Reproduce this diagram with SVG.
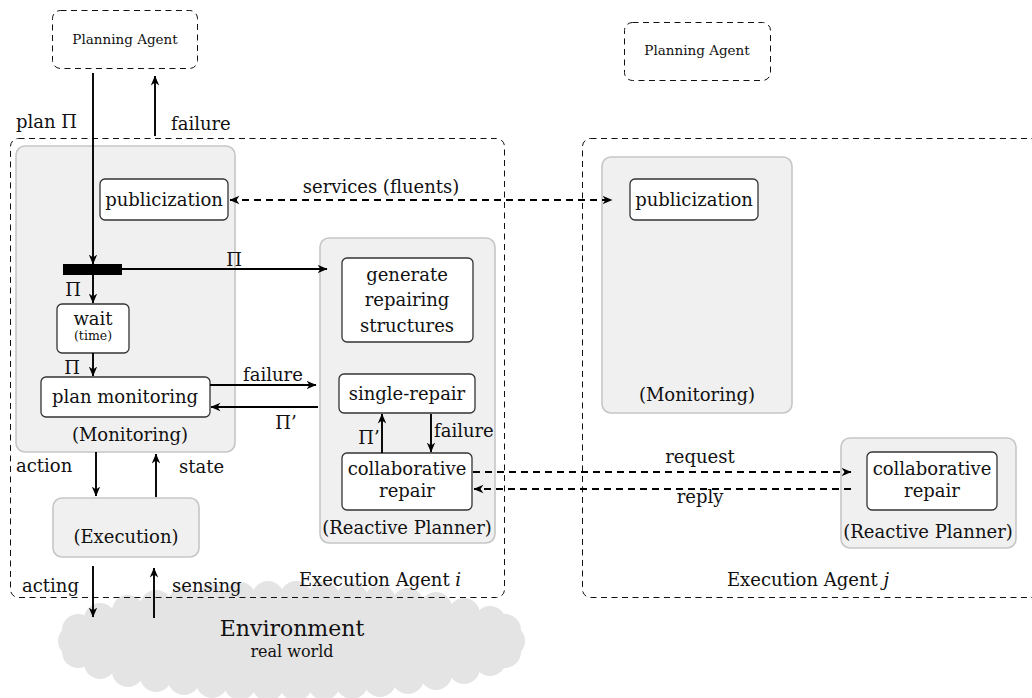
<svg xmlns="http://www.w3.org/2000/svg" width="1032" height="698" viewBox="0 0 1032 698">
  <defs>
    <marker id="arr" viewBox="0 0 10 10" refX="9.5" refY="5" markerWidth="10" markerHeight="10" markerUnits="userSpaceOnUse" orient="auto-start-reverse">
      <path d="M0,0.8 L10,5 L0,9.2 L3,5 z" fill="#000"/>
    </marker>
    <style>
      .txt { font-family: "DejaVu Serif", "Liberation Serif", serif; fill: #111; }
      .lbl { font-size: 18px; }
      .mid { text-anchor: middle; }
      .small { font-size: 13.5px; }
      .agent { fill: none; stroke: #111; stroke-width: 1; stroke-dasharray: 6 4.5; }
      .module { fill: #f0f0f0; stroke: #c6c6c6; stroke-width: 1.6; }
      .task { fill: #fff; stroke: #333; stroke-width: 1.3; }
      .link { fill: none; stroke: #000; stroke-width: 1.9; marker-end: url(#arr); }
      .dlink { fill: none; stroke: #000; stroke-width: 1.9; stroke-dasharray: 7 5; }
      .cloud { fill: #e4e4e4; }
    </style>
  </defs>

  <rect width="1032" height="698" fill="#fff"/>

  <!-- environment cloud -->
  <g id="environment">
    <g class="cloud">
      <ellipse cx="291" cy="641" rx="221" ry="45"/>
      <circle cx="100" cy="619" r="16"/><circle cx="128" cy="611" r="16"/><circle cx="156" cy="606" r="16"/>
      <circle cx="184" cy="603" r="16"/><circle cx="212" cy="600" r="16"/><circle cx="240" cy="598" r="16"/>
      <circle cx="268" cy="597" r="16"/><circle cx="296" cy="597" r="16"/><circle cx="324" cy="598" r="16"/>
      <circle cx="352" cy="599" r="16"/><circle cx="380" cy="601" r="16"/><circle cx="408" cy="604" r="16"/>
      <circle cx="436" cy="608" r="16"/><circle cx="464" cy="614" r="16"/><circle cx="490" cy="622" r="16"/>
      <circle cx="100" cy="663" r="16"/><circle cx="128" cy="671" r="16"/><circle cx="156" cy="676" r="16"/>
      <circle cx="184" cy="679" r="16"/><circle cx="212" cy="682" r="16"/><circle cx="240" cy="684" r="16"/>
      <circle cx="268" cy="685" r="16"/><circle cx="296" cy="685" r="16"/><circle cx="324" cy="684" r="16"/>
      <circle cx="352" cy="683" r="16"/><circle cx="380" cy="681" r="16"/><circle cx="408" cy="678" r="16"/>
      <circle cx="436" cy="674" r="16"/><circle cx="464" cy="668" r="16"/><circle cx="490" cy="660" r="16"/>
      <circle cx="78" cy="630" r="16"/><circle cx="74" cy="641" r="16"/><circle cx="78" cy="652" r="16"/>
      <circle cx="505" cy="630" r="16"/><circle cx="509" cy="641" r="16"/><circle cx="505" cy="652" r="16"/>
    </g>
    <text class="txt mid" x="292" y="636" font-size="22">Environment</text>
    <text class="txt mid" x="292" y="657" font-size="16">real world</text>
  </g>

  <!-- planning agents -->
  <g id="planning-agent-i">
    <rect class="agent" x="52.5" y="10.5" width="145" height="58" rx="8"/>
    <text class="txt mid small" x="125" y="44">Planning Agent</text>
  </g>
  <g id="planning-agent-j">
    <rect class="agent" x="624.5" y="22.5" width="146" height="58" rx="8"/>
    <text class="txt mid small" x="697" y="55">Planning Agent</text>
  </g>

  <!-- execution agent i -->
  <g id="execution-agent-i">
    <rect class="agent" x="10.5" y="138.5" width="494" height="459" rx="8"/>
    <text class="txt mid lbl" x="380" y="586">Execution Agent <tspan font-style="italic">i</tspan></text>
  </g>

  <!-- execution agent j -->
  <g id="execution-agent-j">
    <rect class="agent" x="582.5" y="138.5" width="520" height="459" rx="8"/>
    <text class="txt mid lbl" x="808" y="586">Execution Agent <tspan font-style="italic">j</tspan></text>
  </g>

  <!-- monitoring module of agent i -->
  <g id="monitoring-i">
    <rect class="module" x="16" y="146" width="219" height="306" rx="9"/>
    <text class="txt mid lbl" x="130" y="441">(Monitoring)</text>
  </g>
  <g id="publicization-i">
    <rect class="task" x="100" y="179" width="128" height="41" rx="5"/>
    <text class="txt mid lbl" x="164" y="206">publicization</text>
  </g>
  <g id="fork-bar">
    <rect x="63" y="264" width="59" height="11" fill="#000"/>
  </g>
  <g id="wait">
    <rect class="task" x="57" y="304" width="72" height="49" rx="5"/>
    <text class="txt mid lbl" x="93" y="325">wait</text>
    <text class="txt mid" x="93" y="340" font-size="12.5">(time)</text>
  </g>
  <g id="plan-monitoring">
    <rect class="task" x="41" y="377" width="169" height="40" rx="5"/>
    <text class="txt mid lbl" x="125" y="403">plan monitoring</text>
  </g>

  <!-- execution module -->
  <g id="execution">
    <rect class="module" x="53" y="498" width="146" height="59" rx="9"/>
    <text class="txt mid lbl" x="126" y="543">(Execution)</text>
  </g>

  <!-- reactive planner of agent i -->
  <g id="reactive-planner-i">
    <rect class="module" x="320" y="238" width="175" height="305" rx="9"/>
    <text class="txt mid lbl" x="407" y="534">(Reactive Planner)</text>
  </g>
  <g id="generate-structures">
    <rect class="task" x="342" y="258" width="131" height="84" rx="5"/>
    <text class="txt mid lbl" x="407" y="281">generate</text>
    <text class="txt mid lbl" x="407" y="306">repairing</text>
    <text class="txt mid lbl" x="407" y="332">structures</text>
  </g>
  <g id="single-repair">
    <rect class="task" x="339" y="374" width="136" height="39" rx="5"/>
    <text class="txt mid lbl" x="407" y="400">single-repair</text>
  </g>
  <g id="collaborative-repair-i">
    <rect class="task" x="342" y="453" width="130" height="57" rx="5"/>
    <text class="txt mid lbl" x="407" y="475">collaborative</text>
    <text class="txt mid lbl" x="407" y="497">repair</text>
  </g>

  <!-- agent j modules -->
  <g id="monitoring-j">
    <rect class="module" x="602" y="157" width="190" height="256" rx="9"/>
    <text class="txt mid lbl" x="697" y="401">(Monitoring)</text>
  </g>
  <g id="publicization-j">
    <rect class="task" x="630" y="179" width="128" height="41" rx="5"/>
    <text class="txt mid lbl" x="694" y="206">publicization</text>
  </g>
  <g id="reactive-planner-j">
    <rect class="module" x="841" y="438" width="175" height="110" rx="9"/>
    <text class="txt mid lbl" x="928" y="538">(Reactive Planner)</text>
  </g>
  <g id="collaborative-repair-j">
    <rect class="task" x="867" y="452" width="130" height="58" rx="5"/>
    <text class="txt mid lbl" x="932" y="475">collaborative</text>
    <text class="txt mid lbl" x="932" y="497">repair</text>
  </g>

  <!-- connectors -->
  <g id="connectors">
    <line class="link" x1="93" y1="73" x2="93" y2="264"/>
    <line class="link" x1="155" y1="136" x2="155" y2="76"/>
    <line class="link" x1="122" y1="269" x2="327" y2="269"/>
    <line class="link" x1="93" y1="275" x2="93" y2="303"/>
    <line class="link" x1="93" y1="353" x2="93" y2="376"/>
    <line class="link" x1="210" y1="385" x2="316" y2="385"/>
    <line class="link" x1="318" y1="407" x2="211" y2="407"/>
    <line class="link" x1="382" y1="453" x2="382" y2="414"/>
    <line class="link" x1="431" y1="414" x2="431" y2="452"/>
    <line class="link" x1="96" y1="452" x2="96" y2="496"/>
    <line class="link" x1="156" y1="497" x2="156" y2="454"/>
    <line class="link" x1="93" y1="566" x2="93" y2="617"/>
    <line class="link" x1="154" y1="618" x2="154" y2="568"/>
    <line class="dlink" x1="230" y1="200" x2="612" y2="200" marker-start="url(#arr)" marker-end="url(#arr)"/>
    <line class="dlink" x1="473" y1="472" x2="851" y2="472" marker-end="url(#arr)"/>
    <line class="dlink" x1="851" y1="489" x2="474" y2="489" marker-end="url(#arr)"/>

    <text class="txt lbl" x="16" y="128">plan Π</text>
    <text class="txt lbl" x="171" y="130">failure</text>
    <text class="txt mid lbl" x="381" y="193">services (fluents)</text>
    <text class="txt mid lbl" x="234" y="266">Π</text>
    <text class="txt mid lbl" x="73" y="296">Π</text>
    <text class="txt mid lbl" x="72" y="374">Π</text>
    <text class="txt mid lbl" x="273" y="381">failure</text>
    <text class="txt mid lbl" x="286" y="429">Π’</text>
    <text class="txt mid lbl" x="369" y="444">Π’</text>
    <text class="txt lbl" x="434" y="437">failure</text>
    <text class="txt lbl" x="16" y="472">action</text>
    <text class="txt lbl" x="179" y="473">state</text>
    <text class="txt lbl" x="22" y="592">acting</text>
    <text class="txt lbl" x="172" y="592">sensing</text>
    <text class="txt mid lbl" x="700" y="463">request</text>
    <text class="txt mid lbl" x="700" y="503">reply</text>
  </g>
</svg>
